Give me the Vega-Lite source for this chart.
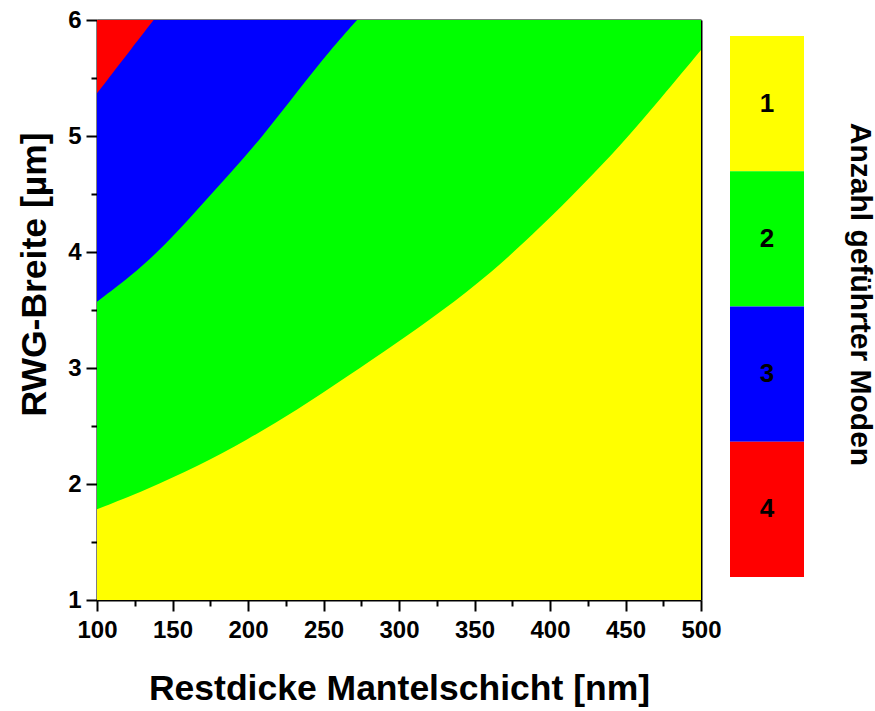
{
  "$schema": "https://vega.github.io/schema/vega-lite/v6.json",
  "padding": {"left": 17, "top": 8, "right": 4, "bottom": 2},
  "background": "white",
  "config": {
    "font": "Liberation Sans",
    "view": {"stroke": null},
    "axis": {
      "grid": false,
      "labelFont": "Liberation Sans",
      "labelFontWeight": "bold",
      "labelFontSize": 24,
      "labelColor": "black",
      "titleFont": "Liberation Sans",
      "titleFontWeight": "bold",
      "titleFontSize": 35.5,
      "titleColor": "black",
      "tickColor": "black",
      "tickWidth": 2,
      "domainColor": "black",
      "domainWidth": 2,
      "zindex": 1
    }
  },
  "datasets": {
    "regions": [
      {"mode": "1", "x": 100, "y": 1},
      {"mode": "1", "x": 500, "y": 1},
      {"mode": "2", "x": 100, "y": 1.782},
      {"mode": "2", "x": 133.1, "y": 1.954},
      {"mode": "2", "x": 166.2, "y": 2.149},
      {"mode": "2", "x": 199.3, "y": 2.379},
      {"mode": "2", "x": 232.5, "y": 2.638},
      {"mode": "2", "x": 265.6, "y": 2.925},
      {"mode": "2", "x": 298.7, "y": 3.218},
      {"mode": "2", "x": 327.8, "y": 3.485},
      {"mode": "2", "x": 360.9, "y": 3.816},
      {"mode": "2", "x": 394.0, "y": 4.218},
      {"mode": "2", "x": 420.5, "y": 4.563},
      {"mode": "2", "x": 447.0, "y": 4.922},
      {"mode": "2", "x": 473.5, "y": 5.325},
      {"mode": "2", "x": 500, "y": 5.741},
      {"mode": "3", "x": 100, "y": 3.572},
      {"mode": "3", "x": 122.1, "y": 3.787},
      {"mode": "3", "x": 144.2, "y": 4.046},
      {"mode": "3", "x": 166.2, "y": 4.362},
      {"mode": "3", "x": 188.3, "y": 4.678},
      {"mode": "3", "x": 210.4, "y": 5.009},
      {"mode": "3", "x": 232.5, "y": 5.382},
      {"mode": "3", "x": 254.5, "y": 5.741},
      {"mode": "3", "x": 272.2, "y": 6.0},
      {"mode": "4", "x": 100, "y": 5.368},
      {"mode": "4", "x": 111.0, "y": 5.555},
      {"mode": "4", "x": 122.1, "y": 5.741},
      {"mode": "4", "x": 137.5, "y": 6.0}
    ],
    "legend": [
      {"mode": "1"},
      {"mode": "2"},
      {"mode": "3"},
      {"mode": "4"}
    ]
  },
  "hconcat": [
    {
      "width": 604,
      "height": 580,
      "data": {"name": "regions"},
      "resolve": {"axis": {"x": "independent", "y": "independent"}},
      "encoding": {
        "color": {
          "field": "mode",
          "type": "nominal",
          "scale": {"domain": ["1", "2", "3", "4"], "range": ["#ffff00", "#00ff00", "#0000ff", "#ff0000"]},
          "legend": null
        }
      },
      "layer": [
        {
          "transform": [{"filter": "datum.mode == '1'"}],
          "mark": {"type": "area", "interpolate": "linear", "opacity": 1},
          "encoding": {
            "x": {
              "field": "x", "type": "quantitative",
              "scale": {"domain": [100, 500], "nice": false, "zero": false},
              "axis": {"orient": "bottom", "values": [100, 150, 200, 250, 300, 350, 400, 450, 500], "tickSize": 11, "labelPadding": 7, "titlePadding": 29, "title": "Restdicke Mantelschicht [nm]", "labelFlush": false}
            },
            "y": {
              "field": "y", "type": "quantitative",
              "scale": {"domain": [1, 6], "nice": false, "zero": false},
              "axis": {"orient": "left", "values": [1, 2, 3, 4, 5, 6], "tickSize": 11, "labelPadding": 5, "titlePadding": 15, "title": "RWG-Breite [µm]", "titleY": 254, "labelFlush": false}
            },
            "y2": {"datum": 6}
          }
        },
        {
          "transform": [{"filter": "datum.mode == '2'"}],
          "mark": {"type": "area", "interpolate": "basis", "opacity": 1},
          "encoding": {
            "x": {
              "field": "x", "type": "quantitative",
              "axis": {"orient": "bottom", "values": [125, 175, 225, 275, 325, 375, 425, 475], "tickSize": 6, "labels": false, "domain": false, "title": null}
            },
            "y": {
              "field": "y", "type": "quantitative",
              "axis": {"orient": "left", "values": [1.5, 2.5, 3.5, 4.5, 5.5], "tickSize": 6, "labels": false, "domain": false, "title": null}
            },
            "y2": {"datum": 6}
          }
        },
        {
          "transform": [{"filter": "datum.mode == '3'"}],
          "mark": {"type": "area", "interpolate": "basis", "opacity": 1},
          "encoding": {
            "x": {
              "field": "x", "type": "quantitative",
              "axis": {"orient": "top", "ticks": false, "labels": false, "domain": true, "title": null}
            },
            "y": {
              "field": "y", "type": "quantitative",
              "axis": {"orient": "right", "ticks": false, "labels": false, "domain": true, "title": null}
            },
            "y2": {"datum": 6}
          }
        },
        {
          "transform": [{"filter": "datum.mode == '4'"}],
          "mark": {"type": "area", "interpolate": "basis", "opacity": 1},
          "encoding": {
            "x": {"field": "x", "type": "quantitative", "axis": null},
            "y": {"field": "y", "type": "quantitative", "axis": null},
            "y2": {"datum": 6}
          }
        }
      ]
    },
    {
      "width": 74,
      "height": 580,
      "data": {"name": "legend"},
      "encoding": {
        "y": {
          "field": "mode", "type": "ordinal",
          "scale": {"domain": ["1", "2", "3", "4"], "paddingInner": 0, "paddingOuter": 0.1442, "align": 0.41},
          "axis": {
            "orient": "right", "ticks": false, "labels": false, "domain": false,
            "title": "Anzahl geführter Moden", "titleAngle": 90, "titleFontSize": 30,
            "titlePadding": 40, "titleY": 274
          }
        }
      },
      "layer": [
        {
          "mark": {"type": "rect"},
          "encoding": {
            "color": {"field": "mode", "type": "nominal", "legend": null}
          }
        },
        {
          "mark": {"type": "text", "font": "Liberation Sans", "fontWeight": "bold", "fontSize": 26, "color": "black", "baseline": "middle", "align": "center"},
          "encoding": {
            "text": {"field": "mode", "type": "nominal"}
          }
        }
      ]
    }
  ],
  "spacing": 8
}
